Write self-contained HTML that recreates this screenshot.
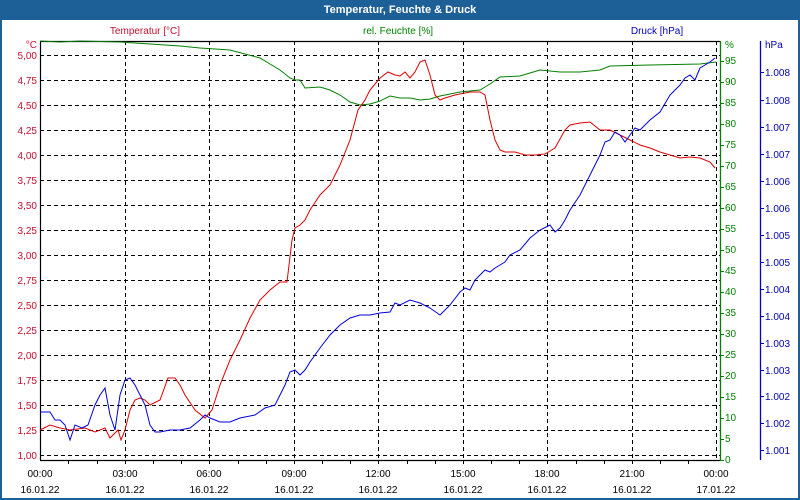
<!DOCTYPE html>
<html><head><meta charset="utf-8"><style>
html,body{margin:0;padding:0;background:#fff}
svg{display:block;font-family:"Liberation Sans","DejaVu Sans",sans-serif;font-size:10px}
</style></head><body>
<svg width="800" height="500" viewBox="0 0 800 500" xmlns="http://www.w3.org/2000/svg">
<rect x="0" y="0" width="800" height="500" fill="#1d5f97"/>
<rect x="2" y="20" width="796" height="478" fill="#fff"/>
<text x="400" y="13" fill="#fff" font-weight="bold" font-size="11" text-anchor="middle">Temperatur, Feuchte &amp; Druck</text>
<text x="145" y="34" fill="#c8102e" text-anchor="middle">Temperatur [°C]</text>
<text x="398" y="34" fill="#008000" text-anchor="middle">rel. Feuchte [%]</text>
<text x="657" y="34" fill="#0000c0" text-anchor="middle">Druck [hPa]</text>
<!-- grid -->
<g stroke="#000" stroke-dasharray="4,3" stroke-width="1">
<line x1="40" y1="55.5" x2="720" y2="55.5"/><line x1="40" y1="80.5" x2="720" y2="80.5"/><line x1="40" y1="105.5" x2="720" y2="105.5"/><line x1="40" y1="130.5" x2="720" y2="130.5"/><line x1="40" y1="155.5" x2="720" y2="155.5"/><line x1="40" y1="180.5" x2="720" y2="180.5"/><line x1="40" y1="205.5" x2="720" y2="205.5"/><line x1="40" y1="230.5" x2="720" y2="230.5"/><line x1="40" y1="255.5" x2="720" y2="255.5"/><line x1="40" y1="280.5" x2="720" y2="280.5"/><line x1="40" y1="305.5" x2="720" y2="305.5"/><line x1="40" y1="330.5" x2="720" y2="330.5"/><line x1="40" y1="355.5" x2="720" y2="355.5"/><line x1="40" y1="380.5" x2="720" y2="380.5"/><line x1="40" y1="405.5" x2="720" y2="405.5"/><line x1="40" y1="430.5" x2="720" y2="430.5"/><line x1="40" y1="455.5" x2="720" y2="455.5"/>
<line x1="125.5" y1="41" x2="125.5" y2="460"/><line x1="209.5" y1="41" x2="209.5" y2="460"/><line x1="294.5" y1="41" x2="294.5" y2="460"/><line x1="378.5" y1="41" x2="378.5" y2="460"/><line x1="463.5" y1="41" x2="463.5" y2="460"/><line x1="547.5" y1="41" x2="547.5" y2="460"/><line x1="632.5" y1="41" x2="632.5" y2="460"/><line x1="716.5" y1="41" x2="716.5" y2="460"/>
</g>
<!-- frame -->
<g stroke="#000" stroke-width="1.2" fill="none">
<line x1="40.5" y1="41" x2="40.5" y2="460"/><line x1="40" y1="41.5" x2="720" y2="41.5"/><line x1="40" y1="460.5" x2="720" y2="460.5"/>
</g>
<g stroke="#000">
<line x1="68.5" y1="460" x2="68.5" y2="464"/><line x1="97.5" y1="460" x2="97.5" y2="464"/><line x1="125.5" y1="460" x2="125.5" y2="464"/><line x1="153.5" y1="460" x2="153.5" y2="464"/><line x1="181.5" y1="460" x2="181.5" y2="464"/><line x1="209.5" y1="460" x2="209.5" y2="464"/><line x1="238.5" y1="460" x2="238.5" y2="464"/><line x1="266.5" y1="460" x2="266.5" y2="464"/><line x1="294.5" y1="460" x2="294.5" y2="464"/><line x1="322.5" y1="460" x2="322.5" y2="464"/><line x1="350.5" y1="460" x2="350.5" y2="464"/><line x1="378.5" y1="460" x2="378.5" y2="464"/><line x1="407.5" y1="460" x2="407.5" y2="464"/><line x1="435.5" y1="460" x2="435.5" y2="464"/><line x1="463.5" y1="460" x2="463.5" y2="464"/><line x1="491.5" y1="460" x2="491.5" y2="464"/><line x1="519.5" y1="460" x2="519.5" y2="464"/><line x1="547.5" y1="460" x2="547.5" y2="464"/><line x1="576.5" y1="460" x2="576.5" y2="464"/><line x1="604.5" y1="460" x2="604.5" y2="464"/><line x1="632.5" y1="460" x2="632.5" y2="464"/><line x1="660.5" y1="460" x2="660.5" y2="464"/><line x1="688.5" y1="460" x2="688.5" y2="464"/>
</g>
<!-- left labels -->
<g fill="#c8102e" text-anchor="end">
<text x="37" y="48">°C</text>
<text x="37" y="59">5,00</text><text x="37" y="84">4,75</text><text x="37" y="109">4,50</text><text x="37" y="134">4,25</text><text x="37" y="159">4,00</text><text x="37" y="184">3,75</text><text x="37" y="209">3,50</text><text x="37" y="234">3,25</text><text x="37" y="259">3,00</text><text x="37" y="284">2,75</text><text x="37" y="309">2,50</text><text x="37" y="334">2,25</text><text x="37" y="359">2,00</text><text x="37" y="384">1,75</text><text x="37" y="409">1,50</text><text x="37" y="434">1,25</text><text x="37" y="459">1,00</text>
</g>
<!-- x labels -->
<g fill="#000" text-anchor="middle">
<text x="40" y="477">00:00</text><text x="125" y="477">03:00</text><text x="209" y="477">06:00</text><text x="294" y="477">09:00</text><text x="378" y="477">12:00</text><text x="463" y="477">15:00</text><text x="547" y="477">18:00</text><text x="632" y="477">21:00</text><text x="716" y="477">00:00</text>
<text x="40" y="493">16.01.22</text><text x="125" y="493">16.01.22</text><text x="209" y="493">16.01.22</text><text x="294" y="493">16.01.22</text><text x="378" y="493">16.01.22</text><text x="463" y="493">16.01.22</text><text x="547" y="493">16.01.22</text><text x="632" y="493">16.01.22</text><text x="716" y="493">17.01.22</text>
</g>
<!-- green axis -->
<line x1="720.5" y1="41" x2="720.5" y2="461" stroke="#008000" stroke-width="1.3"/>
<g stroke="#008000">
<line x1="720" y1="460.5" x2="724" y2="460.5"/><line x1="720" y1="439.5" x2="724" y2="439.5"/><line x1="720" y1="418.5" x2="724" y2="418.5"/><line x1="720" y1="397.5" x2="724" y2="397.5"/><line x1="720" y1="376.5" x2="724" y2="376.5"/><line x1="720" y1="355.5" x2="724" y2="355.5"/><line x1="720" y1="334.5" x2="724" y2="334.5"/><line x1="720" y1="313.5" x2="724" y2="313.5"/><line x1="720" y1="292.5" x2="724" y2="292.5"/><line x1="720" y1="271.5" x2="724" y2="271.5"/><line x1="720" y1="250.5" x2="724" y2="250.5"/><line x1="720" y1="229.5" x2="724" y2="229.5"/><line x1="720" y1="208.5" x2="724" y2="208.5"/><line x1="720" y1="187.5" x2="724" y2="187.5"/><line x1="720" y1="166.5" x2="724" y2="166.5"/><line x1="720" y1="145.5" x2="724" y2="145.5"/><line x1="720" y1="124.5" x2="724" y2="124.5"/><line x1="720" y1="103.5" x2="724" y2="103.5"/><line x1="720" y1="82.5" x2="724" y2="82.5"/><line x1="720" y1="61.5" x2="724" y2="61.5"/>
</g>
<g fill="#008000">
<text x="725" y="48">%</text>
<text x="725" y="64">95</text><text x="725" y="85">90</text><text x="725" y="106">85</text><text x="725" y="127">80</text><text x="725" y="148">75</text><text x="725" y="169">70</text><text x="725" y="190">65</text><text x="725" y="211">60</text><text x="725" y="232">55</text><text x="725" y="253">50</text><text x="725" y="274">45</text><text x="725" y="295">40</text><text x="725" y="316">35</text><text x="725" y="337">30</text><text x="725" y="358">25</text><text x="725" y="379">20</text><text x="725" y="400">15</text><text x="725" y="421">10</text><text x="725" y="442">5</text><text x="725" y="463">0</text>
</g>
<!-- blue axis -->
<line x1="760.5" y1="41" x2="760.5" y2="460" stroke="#0000c0" stroke-width="1.3"/>
<g stroke="#0000c0">
<line x1="760" y1="72.5" x2="764" y2="72.5"/><line x1="760" y1="100.5" x2="764" y2="100.5"/><line x1="760" y1="127.5" x2="764" y2="127.5"/><line x1="760" y1="154.5" x2="764" y2="154.5"/><line x1="760" y1="181.5" x2="764" y2="181.5"/><line x1="760" y1="208.5" x2="764" y2="208.5"/><line x1="760" y1="235.5" x2="764" y2="235.5"/><line x1="760" y1="262.5" x2="764" y2="262.5"/><line x1="760" y1="289.5" x2="764" y2="289.5"/><line x1="760" y1="316.5" x2="764" y2="316.5"/><line x1="760" y1="343.5" x2="764" y2="343.5"/><line x1="760" y1="370.5" x2="764" y2="370.5"/><line x1="760" y1="396.5" x2="764" y2="396.5"/><line x1="760" y1="423.5" x2="764" y2="423.5"/><line x1="760" y1="450.5" x2="764" y2="450.5"/>
</g>
<g fill="#0000c0">
<text x="765" y="48">hPa</text>
<text x="765" y="76">1.008</text><text x="765" y="104">1.008</text><text x="765" y="131">1.007</text><text x="765" y="158">1.007</text><text x="765" y="185">1.006</text><text x="765" y="212">1.006</text><text x="765" y="239">1.005</text><text x="765" y="266">1.005</text><text x="765" y="293">1.004</text><text x="765" y="320">1.004</text><text x="765" y="347">1.003</text><text x="765" y="374">1.003</text><text x="765" y="400">1.002</text><text x="765" y="427">1.002</text><text x="765" y="454">1.001</text>
</g>
<!-- series -->
<polyline fill="none" stroke="#008000" stroke-width="1" points="40,41 60,42 80,41 120,42 150,44 180,46 200,48 230,50 245,54 260,58 270,64 280,70 290,78 295,80 300,80 305,88 320,87 330,90 340,95 350,102 360,105 370,104 380,101 390,96 400,98 410,98 420,100 430,99 440,96 450,94 460,92 470,91 480,90 485,87 490,84 500,77 520,76 530,73 540,70 560,72 580,72 600,70 610,66 650,65 700,64 716,62"/>
<polyline fill="none" stroke="#dd0000" stroke-width="1" points="40,430 50,425 60,428 70,430 85,428 95,432 105,428 110,438 118,430 121,440 125,430 130,410 135,400 140,398 145,400 150,405 160,400 168,378 175,378 180,385 185,395 195,410 205,418 212,410 220,385 230,360 240,340 250,318 260,300 270,290 280,282 287,282 292,240 295,228 300,225 305,220 310,210 320,195 330,185 340,165 350,140 358,110 365,100 370,90 380,78 388,72 395,75 400,76 405,72 410,78 415,72 420,62 425,60 430,75 435,95 440,100 445,98 455,95 470,92 480,92 485,95 490,120 495,140 500,150 505,152 515,152 525,155 535,155 545,154 555,148 565,130 570,125 580,123 590,122 600,130 610,130 620,135 630,140 640,145 650,148 660,152 670,155 680,158 690,157 700,158 710,162 715,168"/>
<polyline fill="none" stroke="#0000dd" stroke-width="1" points="40,412 50,412 55,420 60,420 65,425 70,440 75,425 82,428 88,425 95,405 100,395 105,388 110,415 115,430 120,395 125,380 130,378 135,385 140,395 145,405 150,425 155,432 160,432 170,430 180,430 190,428 200,420 205,415 210,418 220,422 230,422 240,418 255,415 265,408 275,405 280,395 285,385 290,372 295,370 300,375 305,370 310,362 320,348 330,335 340,325 350,318 360,315 370,315 380,313 390,312 395,303 400,305 410,300 420,303 430,308 440,315 445,310 450,305 460,292 465,288 470,290 475,280 480,275 485,270 490,272 495,268 500,265 505,262 510,255 520,250 530,238 540,230 550,225 555,232 560,228 565,220 570,210 580,195 590,175 600,155 605,142 610,140 615,132 620,135 625,142 630,135 635,128 640,130 650,120 660,112 670,95 680,85 685,78 690,75 695,80 700,68 705,65 710,62 715,58"/>
</svg>
</body></html>
